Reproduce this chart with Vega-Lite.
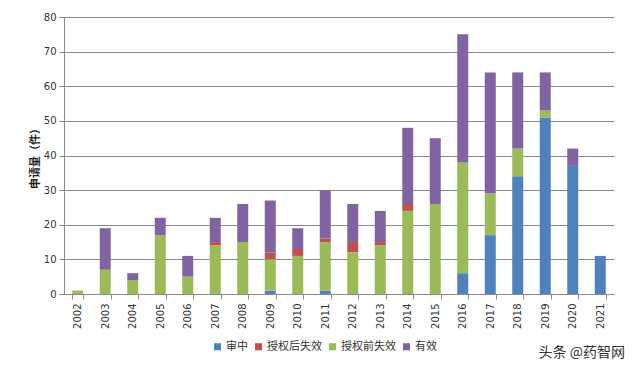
{
  "$schema": "https://vega.github.io/schema/vega-lite/v6.json",
  "width": 550,
  "height": 277,
  "autosize": {"type": "none"},
  "padding": {"left": 64, "top": 17, "right": 26, "bottom": 79},
  "background": "white",
  "title": {
    "text": "头条 @药智网",
    "orient": "bottom",
    "anchor": "end",
    "font": "Noto Sans CJK SC",
    "fontSize": 14,
    "fontWeight": "normal",
    "color": "#333333",
    "offset": -6,
    "dx": 11
  },
  "data": {
    "values": [
      {"year": "2002", "status": "授权前失效", "count": 1},
      {"year": "2003", "status": "授权前失效", "count": 7},
      {"year": "2003", "status": "有效", "count": 12},
      {"year": "2004", "status": "授权前失效", "count": 4},
      {"year": "2004", "status": "有效", "count": 2},
      {"year": "2005", "status": "授权前失效", "count": 17},
      {"year": "2005", "status": "有效", "count": 5},
      {"year": "2006", "status": "授权前失效", "count": 5},
      {"year": "2006", "status": "有效", "count": 6},
      {"year": "2007", "status": "授权后失效", "count": 1},
      {"year": "2007", "status": "授权前失效", "count": 14},
      {"year": "2007", "status": "有效", "count": 7},
      {"year": "2008", "status": "授权前失效", "count": 15},
      {"year": "2008", "status": "有效", "count": 11},
      {"year": "2009", "status": "审中", "count": 1},
      {"year": "2009", "status": "授权后失效", "count": 2},
      {"year": "2009", "status": "授权前失效", "count": 9},
      {"year": "2009", "status": "有效", "count": 15},
      {"year": "2010", "status": "授权后失效", "count": 2},
      {"year": "2010", "status": "授权前失效", "count": 11},
      {"year": "2010", "status": "有效", "count": 6},
      {"year": "2011", "status": "审中", "count": 1},
      {"year": "2011", "status": "授权后失效", "count": 1},
      {"year": "2011", "status": "授权前失效", "count": 14},
      {"year": "2011", "status": "有效", "count": 14},
      {"year": "2012", "status": "授权后失效", "count": 3},
      {"year": "2012", "status": "授权前失效", "count": 12},
      {"year": "2012", "status": "有效", "count": 11},
      {"year": "2013", "status": "授权后失效", "count": 1},
      {"year": "2013", "status": "授权前失效", "count": 14},
      {"year": "2013", "status": "有效", "count": 9},
      {"year": "2014", "status": "授权后失效", "count": 2},
      {"year": "2014", "status": "授权前失效", "count": 24},
      {"year": "2014", "status": "有效", "count": 22},
      {"year": "2015", "status": "授权前失效", "count": 26},
      {"year": "2015", "status": "有效", "count": 19},
      {"year": "2016", "status": "审中", "count": 6},
      {"year": "2016", "status": "授权前失效", "count": 32},
      {"year": "2016", "status": "有效", "count": 37},
      {"year": "2017", "status": "审中", "count": 17},
      {"year": "2017", "status": "授权前失效", "count": 12},
      {"year": "2017", "status": "有效", "count": 35},
      {"year": "2018", "status": "审中", "count": 34},
      {"year": "2018", "status": "授权前失效", "count": 8},
      {"year": "2018", "status": "有效", "count": 22},
      {"year": "2019", "status": "审中", "count": 51},
      {"year": "2019", "status": "授权前失效", "count": 2},
      {"year": "2019", "status": "有效", "count": 11},
      {"year": "2020", "status": "审中", "count": 37},
      {"year": "2020", "status": "有效", "count": 5},
      {"year": "2021", "status": "审中", "count": 11}
    ]
  },
  "mark": {"type": "bar"},
  "encoding": {
    "x": {
      "field": "year",
      "type": "ordinal",
      "scale": {"paddingInner": 0.6, "paddingOuter": 0.3},
      "axis": {
        "title": null,
        "labelAngle": -90,
        "labelAlign": "right",
        "labelBaseline": "middle",
        "labelFont": "DejaVu Sans",
        "labelFontSize": 10,
        "labelColor": "#333333",
        "labelPadding": 4,
        "tickBand": "extent",
        "tickColor": "#8a8a8a",
        "tickSize": 5,
        "domainColor": "#8a8a8a",
        "grid": false
      }
    },
    "y": {
      "field": "count",
      "type": "quantitative",
      "aggregate": "sum",
      "scale": {"domain": [0, 80], "nice": false},
      "axis": {
        "title": "申请量（件）",
        "titleFont": "Noto Sans CJK SC",
        "titleFontSize": 11,
        "titleFontWeight": "bold",
        "titleColor": "#222222",
        "titlePadding": 3,
        "values": [0, 10, 20, 30, 40, 50, 60, 70, 80],
        "labelFont": "DejaVu Sans",
        "labelFontSize": 10,
        "labelColor": "#333333",
        "labelPadding": 3,
        "tickColor": "#8a8a8a",
        "tickSize": 5,
        "domainColor": "#8a8a8a",
        "gridColor": "#8a8a8a",
        "gridWidth": 1
      }
    },
    "color": {
      "field": "status",
      "type": "nominal",
      "scale": {
        "domain": ["审中", "授权后失效", "授权前失效", "有效"],
        "range": ["#4F81BD", "#C0504D", "#9BBB59", "#8064A2"]
      },
      "legend": {
        "title": null,
        "orient": "none",
        "legendX": 148,
        "legendY": 324,
        "direction": "horizontal",
        "symbolType": "square",
        "symbolSize": 50,
        "symbolStrokeWidth": 0,
        "labelFont": "Noto Sans CJK SC",
        "labelFontSize": 11,
        "labelColor": "#333333",
        "columnPadding": 5,
        "labelOffset": 3
      }
    },
    "order": {"field": "status", "sort": "ascending"}
  },
  "config": {
    "view": {"stroke": null}
  }
}
